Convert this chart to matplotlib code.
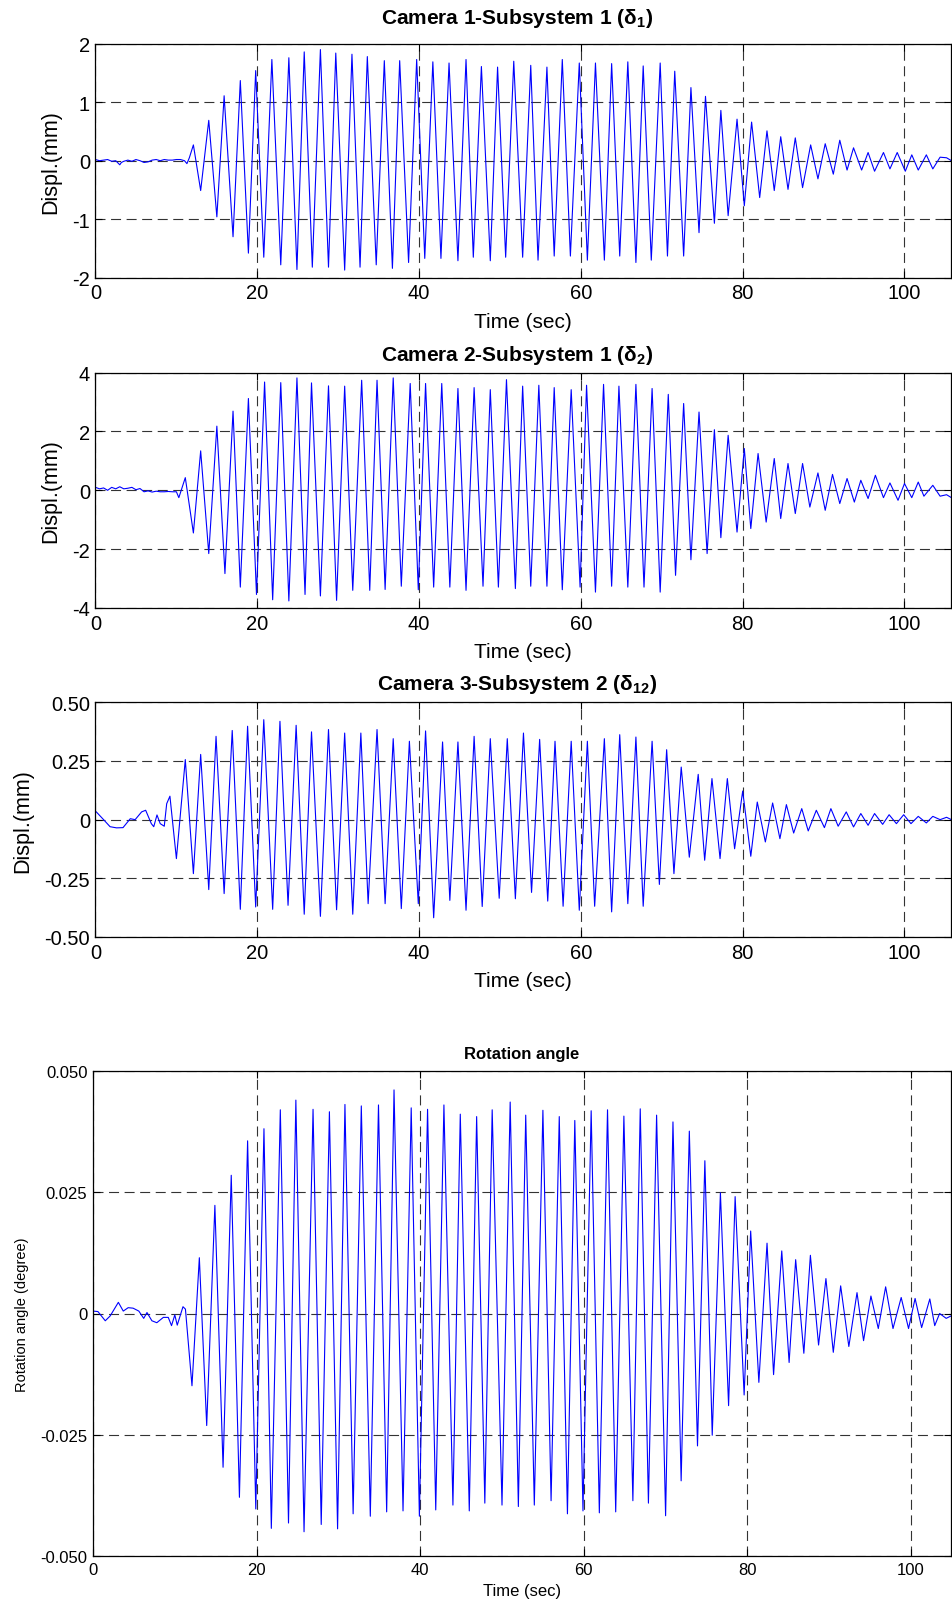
import matplotlib.pyplot as plt
import numpy as np

plt.rcParams['font.family'] = ['Liberation Sans', 'DejaVu Sans']
plt.rcParams['mathtext.fontset'] = 'custom'
plt.rcParams['mathtext.rm'] = 'Liberation Sans'
plt.rcParams['mathtext.bf'] = 'Liberation Sans:bold'

time_ticks = [0, 20, 40, 60, 80, 100]

# camera 1 - subsystem 1: quiet start, then peaks / troughs
cam1_t = [0, 0.5, 1, 1.5, 2, 2.5, 3.0, 3.2, 3.5, 4, 4.5, 5, 5.5, 6, 6.5, 7, 7.5, 8, 8.5, 9, 9.5, 10, 10.5, 11, 11.3, 11.6,
          12.1, 13.0, 14.0, 15.0, 15.9, 17.0, 17.9, 18.9, 19.8, 20.8, 21.8, 22.9, 23.9, 24.9, 25.8, 26.8, 27.8, 28.8,
          29.7, 30.8, 31.7, 32.7, 33.6, 34.7, 35.7, 36.7, 37.6, 38.7, 39.7, 40.7, 41.7, 42.7, 43.7, 44.8, 45.8, 46.7,
          47.7, 48.8, 49.7, 50.7, 51.7, 52.8, 53.8, 54.7, 55.8, 56.7, 57.7, 58.7, 59.8, 60.8, 61.8, 62.9, 63.8, 64.8,
          65.8, 66.8, 67.7, 68.7, 69.8, 70.7, 71.6, 72.7, 73.6, 74.6, 75.4, 76.5, 77.3, 78.2, 79.3, 80.2, 81.1, 82.1,
          83.0, 83.9, 84.7, 85.6, 86.5, 87.4, 88.4, 89.3, 90.2, 91.2, 92.0, 92.9, 93.7, 94.7, 95.5, 96.3, 97.4, 98.2,
          99.1, 100.1, 100.9, 101.7, 102.7, 103.5, 104.4, 105.2, 105.8]
cam1_v = [0.02, 0.0, 0.01, 0.02, -0.01, 0.0, -0.07, -0.03, -0.01, 0.01, -0.01, 0.02, 0.0, -0.03, -0.02, 0.01, 0.02,
          0.0, 0.02, 0.01, 0.01, 0.02, 0.02, 0.0, -0.05, 0.05,
          0.27, -0.51, 0.69, -0.96, 1.11, -1.30, 1.37, -1.58, 1.54, -1.65, 1.73, -1.78, 1.76, -1.86, 1.86, -1.82, 1.90,
          -1.82, 1.84, -1.87, 1.82, -1.82, 1.78, -1.78, 1.71, -1.84, 1.71, -1.74, 1.73, -1.67, 1.69, -1.67, 1.67,
          -1.71, 1.73, -1.65, 1.61, -1.71, 1.60, -1.65, 1.70, -1.65, 1.63, -1.70, 1.60, -1.63, 1.73, -1.63, 1.67,
          -1.70, 1.67, -1.70, 1.66, -1.63, 1.69, -1.74, 1.62, -1.70, 1.67, -1.63, 1.53, -1.63, 1.25, -1.23, 1.10,
          -1.07, 0.86, -0.94, 0.71, -0.77, 0.66, -0.63, 0.51, -0.51, 0.41, -0.49, 0.39, -0.46, 0.27, -0.31, 0.29,
          -0.23, 0.35, -0.16, 0.22, -0.16, 0.14, -0.18, 0.14, -0.14, 0.14, -0.18, 0.10, -0.16, 0.10, -0.14, 0.06,
          0.05, 0.0]

# camera 2 - subsystem 1
cam2_t = [0, 0.5, 1, 1.5, 2, 2.5, 3, 3.5, 4, 4.5, 5, 5.5, 6, 6.5, 7, 7.5, 8, 8.5, 9, 9.5, 10, 10.3,
          11.1, 12.1, 13.0, 14.0, 15.0, 16.0, 17.0, 17.9, 18.9, 19.9, 20.9, 21.9, 22.9, 23.9, 24.9, 25.9, 26.7,
          27.8, 28.8, 29.8, 30.8, 31.8, 32.9, 33.9, 34.8, 35.8, 36.8, 37.8, 38.9, 39.9, 40.8, 41.8, 42.8, 43.8,
          44.8, 45.8, 46.8, 47.9, 48.8, 49.8, 50.8, 51.9, 52.8, 53.8, 54.8, 55.8, 56.7, 57.7, 58.8, 59.9, 60.7,
          61.8, 62.8, 63.8, 64.7, 65.8, 66.8, 67.8, 68.8, 69.8, 70.8, 71.7, 72.7, 73.6, 74.6, 75.6, 76.5, 77.3,
          78.2, 79.3, 80.2, 81.0, 81.9, 82.9, 83.9, 84.7, 85.6, 86.5, 87.4, 88.3, 89.3, 90.2, 91.1, 92.0, 92.9,
          93.8, 94.6, 95.5, 96.4, 97.4, 98.2, 99.2, 100.0, 100.9, 101.7, 102.4, 103.5, 104.4, 105.2, 105.8]
cam2_v = [0.10, 0.05, 0.08, 0.0, 0.10, 0.05, 0.12, 0.05, 0.07, 0.10, 0.02, 0.06, -0.05, -0.02, -0.06, -0.03, -0.05,
          -0.05, -0.04, -0.05, -0.05, -0.25,
          0.43, -1.45, 1.34, -2.15, 2.18, -2.83, 2.69, -3.29, 3.12, -3.54, 3.68, -3.72, 3.66, -3.76, 3.82, -3.54,
          3.65, -3.59, 3.55, -3.74, 3.54, -3.40, 3.74, -3.40, 3.74, -3.37, 3.82, -3.26, 3.63, -3.38, 3.63, -3.29,
          3.63, -3.29, 3.46, -3.40, 3.49, -3.26, 3.42, -3.29, 3.76, -3.34, 3.54, -3.26, 3.57, -3.26, 3.49, -3.38,
          3.42, -3.29, 3.57, -3.46, 3.60, -3.26, 3.54, -3.29, 3.60, -3.29, 3.46, -3.46, 3.26, -2.89, 2.95, -2.36,
          2.66, -2.15, 2.06, -1.61, 1.87, -1.42, 1.42, -1.30, 1.25, -1.08, 1.08, -0.96, 0.91, -0.79, 0.91, -0.57,
          0.59, -0.68, 0.54, -0.45, 0.40, -0.40, 0.34, -0.28, 0.51, -0.25, 0.25, -0.34, 0.23, -0.25, 0.28, -0.20,
          0.17, -0.20, -0.15, -0.25]

# camera 3 - subsystem 2
cam3_t = [0.1, 1.0, 1.8, 2.6, 3.4, 4.3, 4.9, 5.7, 6.2, 6.9, 7.2, 7.6, 8.0, 8.5, 8.8, 9.2,
          10.0, 11.1, 12.1, 13.0, 14.0, 14.9, 15.9, 16.9, 17.9, 18.8, 19.8, 20.8, 21.9, 22.8, 23.8, 24.8, 25.8,
          26.7, 27.8, 28.8, 29.8, 30.8, 31.8, 32.8, 33.7, 34.8, 35.8, 36.8, 37.8, 38.8, 39.9, 40.8, 41.8, 42.9,
          43.8, 44.8, 45.8, 46.8, 47.8, 48.8, 49.9, 50.9, 51.9, 52.9, 53.9, 54.9, 55.9, 56.8, 57.8, 58.8, 59.8,
          60.8, 61.7, 62.9, 63.8, 64.8, 65.8, 66.8, 67.7, 68.8, 69.7, 70.6, 71.5, 72.4, 73.4, 74.5, 75.3, 76.2,
          77.2, 78.1, 79.0, 80.0, 81.0, 81.8, 82.8, 83.7, 84.6, 85.4, 86.3, 87.3, 88.1, 89.1, 90.1, 90.9, 91.8,
          92.8, 93.7, 94.6, 95.5, 96.3, 97.3, 98.1, 99.0, 99.9, 100.8, 101.7, 102.7, 103.5, 104.4, 105.2, 105.8]
cam3_v = [0.033, 0.0, -0.03, -0.035, -0.034, 0.004, 0.0, 0.033, 0.04, -0.017, -0.03, 0.02, -0.017, -0.028, 0.068,
          0.10,
          -0.166, 0.256, -0.23, 0.278, -0.298, 0.355, -0.315, 0.38, -0.382, 0.398, -0.372, 0.426, -0.382, 0.419,
          -0.365, 0.402, -0.403, 0.374, -0.412, 0.384, -0.384, 0.369, -0.403, 0.369, -0.358, 0.384, -0.358, 0.345,
          -0.379, 0.334, -0.358, 0.378, -0.418, 0.331, -0.344, 0.331, -0.386, 0.355, -0.37, 0.345, -0.335, 0.345,
          -0.337, 0.369, -0.31, 0.342, -0.347, 0.334, -0.369, 0.334, -0.386, 0.334, -0.369, 0.345, -0.393, 0.362,
          -0.358, 0.352, -0.369, 0.334, -0.276, 0.298, -0.23, 0.224, -0.16, 0.193, -0.173, 0.175, -0.166, 0.175,
          -0.124, 0.122, -0.156, 0.075, -0.095, 0.071, -0.081, 0.064, -0.057, 0.047, -0.048, 0.04, -0.034, 0.047,
          -0.028, 0.033, -0.031, 0.026, -0.024, 0.026, -0.02, 0.021, -0.017, 0.021, -0.017, 0.014, -0.014, 0.014,
          0.0, 0.01, 0.0]

# rotation angle
rot_t = [0, 0.6, 1.5, 2.1, 3.1, 3.7, 4.3, 4.9, 5.6, 6.2, 6.6, 7.2, 7.8, 8.6, 9.2, 9.6, 10.0, 10.3, 11.0, 11.3,
         12.1, 13.0, 13.9, 14.9, 15.9, 16.9, 17.9, 18.9, 19.9, 20.9, 21.8, 22.9, 23.9, 24.8, 25.8, 26.9, 27.9,
         28.9, 29.9, 30.8, 31.8, 32.8, 33.9, 34.9, 35.9, 36.8, 37.9, 38.9, 39.9, 40.9, 41.9, 42.9, 44.0, 44.9,
         46.0, 46.9, 47.9, 48.8, 50.0, 51.0, 52.0, 52.9, 53.95, 55.0, 56.0, 57.0, 58.0, 58.9, 59.9, 60.9, 61.9,
         62.9, 63.9, 64.9, 66.0, 66.9, 67.9, 68.9, 70.0, 70.9, 71.9, 72.9, 73.9, 74.8, 75.7, 76.7, 77.7, 78.5,
         79.6, 80.4, 81.4, 82.4, 83.2, 84.2, 85.1, 85.9, 86.9, 87.7, 88.7, 89.6, 90.5, 91.4, 92.4, 93.4, 94.2,
         95.1, 96.0, 96.9, 97.8, 98.8, 99.7, 100.5, 101.3, 102.3, 102.9, 103.5, 104.3, 104.9]
rot_v = [0.0005, 0.0004, -0.0015, -0.0005, 0.0023, 0.0005, 0.0012, 0.0011, 0.0005, -0.001, 0.0002, -0.0015,
         -0.0019, -0.0008, -0.0008, -0.0025, -0.0003, -0.0024, 0.0014, 0.0009,
         -0.0149, 0.0115, -0.0231, 0.0223, -0.0317, 0.0285, -0.0379, 0.0356, -0.0403, 0.0381, -0.0443, 0.042,
         -0.0432, 0.044, -0.045, 0.0421, -0.0435, 0.0416, -0.0444, 0.0431, -0.0413, 0.0428, -0.0418, 0.043,
         -0.0409, 0.0461, -0.0407, 0.0424, -0.0418, 0.0421, -0.0405, 0.043, -0.0395, 0.0411, -0.0407, 0.0406,
         -0.0391, 0.042, -0.0395, 0.0436, -0.0398, 0.0409, -0.0395, 0.0419, -0.0386, 0.0406, -0.0413, 0.0398,
         -0.0407, 0.0418, -0.0411, 0.042, -0.0409, 0.0407, -0.0386, 0.0422, -0.0391, 0.0409, -0.0417, 0.0395,
         -0.0345, 0.0376, -0.0273, 0.0315, -0.0251, 0.0249, -0.019, 0.0241, -0.0168, 0.017, -0.0142, 0.0145,
         -0.0126, 0.0129, -0.0101, 0.0111, -0.0082, 0.012, -0.0065, 0.0072, -0.008, 0.0057, -0.0068, 0.0043,
         -0.0056, 0.0036, -0.0031, 0.0055, -0.0031, 0.0033, -0.0031, 0.0031, -0.0029, 0.003, -0.0025, 0.0,
         -0.001, -0.0005]

W, H = 953, 1606
RIGHT = 951
fig = plt.figure(figsize=(W / 100, H / 100), dpi=100)


def px_axes(left, top, right, bottom):
    return fig.add_axes([left / W, 1 - bottom / H, (right - left) / W, (bottom - top) / H])


def style(ax, yticks, ylabels, xlim, fs):
    ax.set_xlim(*xlim)
    ax.set_ylim(yticks[0], yticks[-1])
    ax.set_xticks(time_ticks)
    ax.set_yticks(yticks)
    ax.set_yticklabels(ylabels)
    ax.tick_params(direction='in', top=True, right=True, length=5, width=0.8, labelsize=fs, pad=4)
    ax.grid(True, color='0.2', ls=(0, (9, 5)), lw=0.8)
    for s in ax.spines.values():
        s.set_linewidth(0.9)


# (series, axes box in px, y ticks, tick labels, title, title baseline in px)
panels = [
    (cam1_t, cam1_v, (95.5, 44.7, RIGHT, 278.7), [-2, -1, 0, 1, 2], ['-2', '-1', '0', '1', '2'],
     r'Camera 1-Subsystem 1 (δ$_\mathbf{1}$)', 24),
    (cam2_t, cam2_v, (95.5, 373.6, RIGHT, 609), [-4, -2, 0, 2, 4], ['-4', '-2', '0', '2', '4'],
     r'Camera 2-Subsystem 1 (δ$_\mathbf{2}$)', 361),
    (cam3_t, cam3_v, (95.5, 703.3, RIGHT, 938), [-0.5, -0.25, 0, 0.25, 0.5],
     ['-0.50', '-0.25', '0', '0.25', '0.50'], r'Camera 3-Subsystem 2 (δ$_\mathbf{12}$)', 689.5),
]

for t, v, box, yt, yl, title, base in panels:
    ax = px_axes(*box)
    ax.plot(t, v, color='#0000ff', lw=0.8)
    style(ax, yt, yl, (0, (box[2] - 95.5) / 8.09), 14.5)
    ax.set_xlabel('Time (sec)', fontsize=15, labelpad=7)
    ax.set_ylabel('Displ.(mm)', fontsize=15.5, labelpad=8)
    ax.text(0.493, 1 + (box[1] - base) / (box[3] - box[1]), title, transform=ax.transAxes,
            ha='center', va='baseline', fontsize=15, fontweight='bold')

ax4 = px_axes(93, 1072, RIGHT, 1557)
ax4.plot(rot_t, rot_v, color='#0000ff', lw=0.8)
style(ax4, [-0.05, -0.025, 0, 0.025, 0.05], ['-0.050', '-0.025', '0', '0.025', '0.050'],
      (0, (RIGHT - 93) / 8.18), 12)
ax4.set_xlabel('Time (sec)', fontsize=12, labelpad=5)
ax4.set_ylabel('Rotation angle (degree)', fontsize=10.5, labelpad=8)
ax4.text(0.5, 1 + (1072 - 1059.3) / (1557 - 1072), 'Rotation angle', transform=ax4.transAxes,
         ha='center', va='baseline', fontsize=12, fontweight='bold')

fig.savefig('out.png', dpi=100)
